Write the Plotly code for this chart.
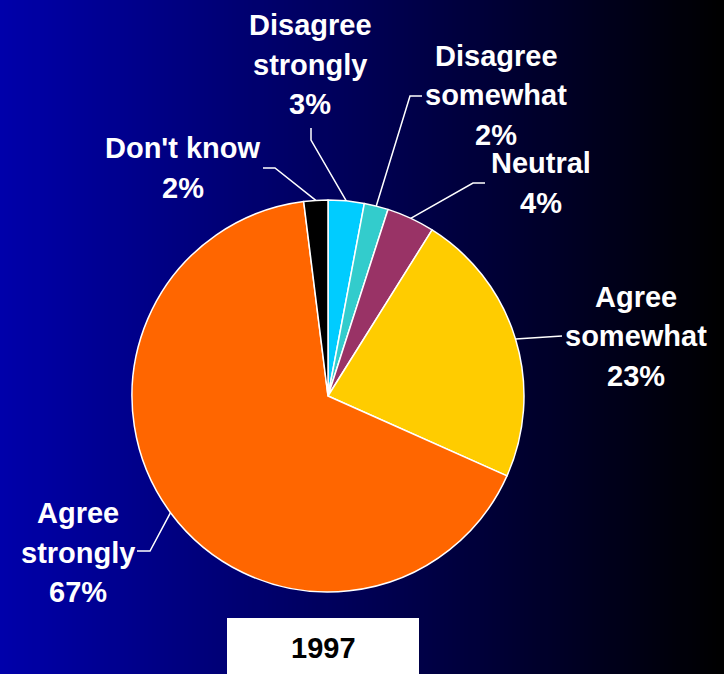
import math
import plotly.graph_objects as go

# Survey responses, 1997
labels = ["Disagree strongly", "Disagree somewhat", "Neutral",
          "Agree somewhat", "Agree strongly", "Don't know"]
values = [3, 2, 4, 23, 67, 2]
colors = ["#00CCFF", "#33CCCC", "#993366", "#FFCC00", "#FF6600", "#000000"]
label_lines = [["Disagree", "strongly"], ["Disagree", "somewhat"], ["Neutral"],
               ["Agree", "somewhat"], ["Agree", "strongly"], ["Don't know"]]
year = "1997"

W, H = 724, 674
CX, CY, R = 328, 396, 196          # pie centre / radius in pixels

def px(x):
    return x / W

def py(y):
    return 1 - y / H

fig = go.Figure()
fig.add_trace(go.Pie(
    labels=labels, values=values, sort=False, direction="clockwise",
    rotation=0, textinfo="none", hoverinfo="skip",
    marker=dict(colors=colors, line=dict(color="white", width=1.5)),
    domain=dict(x=[px(CX - R), px(CX + R)], y=[py(CY + R), py(CY - R)]),
    showlegend=False,
))

shapes = []
# horizontal blue-to-black background gradient
n_strips = 181
for i in range(n_strips):
    t = i / (n_strips - 1)
    b = round(170 * (1 - t))
    shapes.append(dict(type="rect", xref="paper", yref="paper", layer="below",
                       x0=i / n_strips, x1=(i + 1) / n_strips + 0.002, y0=0, y1=1,
                       line=dict(width=0), fillcolor=f"rgb(0,0,{b})"))

# label block centre x, first line y, leader start + elbow (pixels)
label_pos = [
    (310, 25, [(311, 128), (311, 140)]),
    (496, 56, [(422, 96), (410, 96)]),
    (541, 163, [(485, 183), (473, 183)]),
    (636, 297, [(562, 336)]),
    (78, 513, [(137, 551), (150, 551)]),
    (183, 148, [(263, 168), (275, 168)]),
]
LINE_H = 39.5
FONT = dict(family="Liberation Sans, Arial", size=29, color="white", weight="bold")

total = sum(values)
cum = 0
annotations = []
for lab, lines, v, (tx, ty, leader) in zip(labels, label_lines, values, label_pos):
    mid = (cum + v / 2) / total * 2 * math.pi
    cum += v
    ax_ = CX + R * math.sin(mid)
    ay_ = CY - R * math.cos(mid)
    pct = f"{round(v)}%"
    for k, txt in enumerate(lines + [pct]):
        annotations.append(dict(
            x=px(tx), y=py(ty + k * LINE_H), xref="paper", yref="paper",
            text=txt, showarrow=False, xanchor="center", yanchor="middle",
            font=FONT,
        ))
    pts = leader + [(ax_, ay_)]
    path = "M " + " L ".join(f"{px(x):.5f},{py(y):.5f}" for x, y in pts)
    shapes.append(dict(type="path", xref="paper", yref="paper", path=path,
                       line=dict(color="white", width=1.5)))

# year caption box
shapes.append(dict(type="rect", xref="paper", yref="paper",
                   x0=px(227), x1=px(419), y0=0, y1=py(618),
                   fillcolor="white", line=dict(width=0)))
annotations.append(dict(x=px(323), y=py(648), xref="paper", yref="paper",
                        text=year, showarrow=False, xanchor="center",
                        yanchor="middle", font={**FONT, "color": "black"}))

fig.update_layout(
    width=W, height=H, margin=dict(l=0, r=0, t=0, b=0),
    paper_bgcolor="#000050", plot_bgcolor="rgba(0,0,0,0)",
    shapes=shapes, annotations=annotations,
)
fig.write_html("out.html")
